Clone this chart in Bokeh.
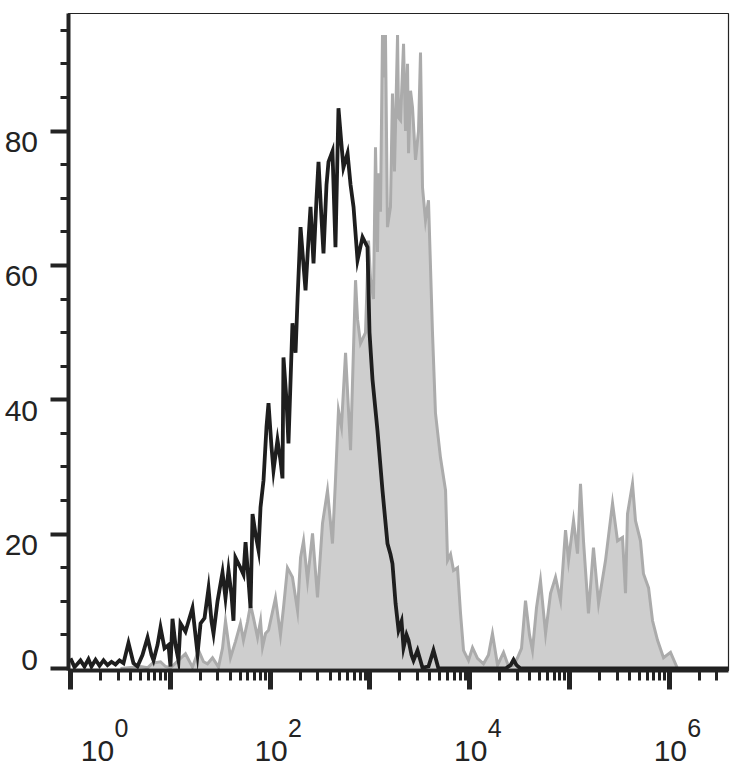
import numpy as np
from bokeh.plotting import figure
from bokeh.models import Range1d, FixedTicker, CustomJSTickFormatter, ColumnDataSource
from bokeh.layouts import row, column
from bokeh.core.properties import value
from bokeh.embed import file_html
from bokeh.resources import INLINE

# ---- data ----
# isotype control (black outline): log10 fluorescence intensity and % of max
ctrl_log = [0.000, 0.040, 0.100, 0.140, 0.180, 0.210, 0.251, 0.291, 0.331, 0.371,
            0.411, 0.451, 0.491, 0.531, 0.581, 0.631, 0.671, 0.721, 0.772, 0.812,
            0.832, 0.872, 0.902, 0.942, 0.982, 1.002, 1.022, 1.052, 1.082, 1.102,
            1.152, 1.182, 1.222, 1.273, 1.303, 1.343, 1.383, 1.413, 1.433, 1.473,
            1.523, 1.553, 1.583, 1.613, 1.633, 1.653, 1.703, 1.733, 1.754, 1.784,
            1.804, 1.824, 1.854, 1.884, 1.904, 1.934, 1.964, 1.984, 2.014, 2.034,
            2.074, 2.104, 2.124, 2.134, 2.164, 2.184, 2.224, 2.255, 2.275, 2.305,
            2.335, 2.355, 2.385, 2.405, 2.435, 2.465, 2.485, 2.515, 2.535, 2.565,
            2.585, 2.625, 2.655, 2.685, 2.715, 2.735, 2.776, 2.806, 2.836, 2.876,
            2.926, 2.976, 2.996, 3.026, 3.076, 3.126, 3.176, 3.206, 3.226, 3.257,
            3.287, 3.317, 3.337, 3.367, 3.387, 3.417, 3.437, 3.477, 3.527, 3.587,
            3.637, 3.687, 4.008, 4.359, 4.409, 4.439, 4.469, 4.509, 5.311, 6.593]
ctrl_pct = [1.5, 0.2, 1.2, 0.3, 1.4, 0.3, 1.3, 0.4, 1.2, 0.5,
            1.0, 0.6, 1.2, 0.8, 3.8, 0.8, 0.3, 2.0, 4.6, 2.0,
            1.2, 3.5, 6.1, 3.0, 3.5, 0.3, 7.4, 3.5, 1.2, 6.7,
            5.5, 7.0, 9.0, 2.2, 6.7, 7.5, 11.9, 7.0, 5.2, 10.0,
            14.3, 10.5, 14.6, 11.0, 7.1, 16.5, 15.0, 14.0, 18.8, 13.0,
            9.0, 23.0, 20.0, 17.6, 24.0, 28.0, 36.0, 39.5, 33.0, 29.5,
            34.0, 31.0, 28.3, 46.3, 40.0, 33.5, 51.4, 47.0, 55.0, 65.7,
            60.0, 56.3, 64.0, 68.7, 60.3, 70.0, 75.4, 67.0, 61.8, 72.0,
            75.4, 77.0, 62.7, 83.4, 78.0, 74.6, 76.7, 72.0, 68.7, 60.8,
            64.2, 62.7, 50.0, 43.0, 35.4, 26.5, 18.6, 17.0, 15.6, 9.7,
            5.7, 7.0, 3.1, 5.0, 4.2, 2.0, 1.2, 2.7, 0.1, 0.3,
            2.7, 0.0, 0.0, 0.0, 0.5, 1.3, 0.5, 0.0, 0.0, 0.0]

# stained sample (grey filled)
stain_log = [0.501, 0.701, 0.772, 0.822, 0.902, 0.952, 1.002, 1.082, 1.152, 1.222,
             1.283, 1.333, 1.373, 1.423, 1.483, 1.523, 1.553, 1.603, 1.653, 1.703,
             1.733, 1.774, 1.804, 1.834, 1.874, 1.904, 1.924, 1.954, 1.984, 2.054,
             2.104, 2.134, 2.174, 2.224, 2.275, 2.305, 2.335, 2.375, 2.425, 2.475,
             2.525, 2.575, 2.625, 2.655, 2.685, 2.715, 2.756, 2.806, 2.836, 2.856,
             2.876, 2.906, 2.956, 2.986, 3.006, 3.036, 3.056, 3.076, 3.086, 3.106,
             3.126, 3.146, 3.156, 3.176, 3.206, 3.226, 3.246, 3.277, 3.287, 3.307,
             3.337, 3.357, 3.377, 3.387, 3.407, 3.427, 3.457, 3.487, 3.507, 3.527,
             3.557, 3.587, 3.627, 3.657, 3.707, 3.758, 3.778, 3.808, 3.838, 3.878,
             3.908, 3.938, 3.988, 4.028, 4.078, 4.138, 4.188, 4.228, 4.279, 4.339,
             4.389, 4.439, 4.479, 4.519, 4.559, 4.599, 4.629, 4.669, 4.709, 4.760,
             4.810, 4.860, 4.910, 4.960, 4.990, 5.040, 5.080, 5.110, 5.140, 5.190,
             5.240, 5.291, 5.361, 5.431, 5.481, 5.531, 5.561, 5.581, 5.631, 5.661,
             5.711, 5.741, 5.792, 5.832, 5.882, 5.942, 6.012, 6.082]
stain_pct = [0.0, 0.3, 0.1, 0.8, 1.0, 0.3, 0.1, 1.2, 2.2, 0.2,
             2.7, 1.0, 0.7, 1.6, 0.2, 3.0, 7.1, 1.6, 4.0, 6.7,
             4.2, 7.0, 9.5, 7.5, 4.6, 7.1, 3.2, 5.2, 5.7, 10.5,
             5.0, 9.0, 15.0, 13.6, 8.6, 16.5, 19.0, 13.1, 20.1, 10.6,
             21.6, 26.5, 18.6, 28.0, 38.4, 36.0, 47.0, 32.5, 47.8, 57.8,
             52.0, 48.4, 50.0, 63.7, 58.0, 55.0, 77.6, 62.0, 73.7, 68.0,
             94.3, 88.0, 94.3, 65.7, 68.7, 85.6, 74.0, 94.3, 82.0, 81.6,
             93.0, 80.0, 90.0, 76.7, 86.0, 83.5, 75.7, 80.0, 91.7, 71.6,
             66.7, 69.7, 50.0, 38.0, 31.4, 26.5, 16.1, 17.0, 14.6, 15.0,
             8.2, 2.7, 1.2, 3.1, 1.5, 0.7, 2.0, 5.2, 0.5, 2.4,
             0.3, 0.5, 1.6, 3.0, 10.1, 5.0, 2.7, 9.0, 13.1, 5.2,
             11.2, 13.6, 10.1, 20.6, 16.1, 22.0, 17.1, 27.5, 19.0, 8.2,
             18.0, 9.7, 16.1, 24.6, 19.0, 19.5, 11.2, 23.0, 27.5, 22.0,
             19.0, 14.1, 12.0, 7.1, 4.2, 1.6, 2.4, 0.0]

# axes
y_major = [0, 20, 40, 60, 80]
y_minor = [5, 10, 15, 25, 30, 35, 45, 50, 55, 65, 70, 75, 85, 90, 95]
y_label_text = ["0", "20", "40", "60", "80"]
x_decades = [0, 1, 2, 3, 4, 5, 6]
x_minor_mult = [2, 3, 4, 5, 6, 7, 8, 9]
x_label_decades = [0, 2, 4, 6]
x_label_base = ["10", "10", "10", "10"]
x_label_sup = ["0", "2", "4", "6"]

# ---- styling / layout constants ----
INK = "#232323"
FONT = "Liberation Sans"
FRAME_W, FRAME_H = 660, 657
TOP, LEFT_LAB, LEFT_AX, RIGHT, BOTTOM_AX, XLAB_H = 13, 40, 28, 2, 45, 55
Y0, Y1 = -0.3, 97.5
PPU = FRAME_H / (Y1 - Y0)          # pixels per y unit

x_lo, x_hi = 10 ** -0.02, 10 ** 6.593
xr = Range1d(x_lo, x_hi)
yr = Range1d(Y0, Y1)

# ---- main plot ----
p = figure(x_axis_type="log", frame_width=FRAME_W, frame_height=FRAME_H,
           x_range=xr, y_range=yr, output_backend="svg", toolbar_location=None,
           min_border_left=LEFT_AX, min_border_top=TOP, min_border_right=RIGHT,
           min_border_bottom=BOTTOM_AX)
p.grid.visible = False
p.outline_line_color = INK
p.outline_line_width = 1.2

sx = 10 ** np.array(stain_log)
sy = np.array(stain_pct)
p.varea(x=sx, y1=np.zeros_like(sy), y2=sy, fill_color="#cecece")
p.line(sx, sy, line_color="#ababab", line_width=3, line_join="miter")

cx = 10 ** np.array(ctrl_log)
cy = np.array(ctrl_pct)
p.line(cx, cy, line_color="#1e1e1e", line_width=3.8, line_join="miter")

major_x = [10.0 ** d for d in x_decades]
minor_x = [m * 10.0 ** d for d in x_decades for m in x_minor_mult if m * 10.0 ** d < x_hi]
xa = p.xaxis[0]
xa.ticker = FixedTicker(ticks=major_x, minor_ticks=minor_x)
xa.formatter = CustomJSTickFormatter(code="return ''")
xa.major_label_standoff = 0
xa.axis_line_width = 4
xa.axis_line_color = INK
xa.major_tick_in = 0
xa.major_tick_out = 19
xa.major_tick_line_width = 5
xa.major_tick_line_color = INK
xa.minor_tick_in = 0
xa.minor_tick_out = 10
xa.minor_tick_line_width = 3
xa.minor_tick_line_color = INK

ya = p.yaxis[0]
ya.ticker = FixedTicker(ticks=y_major, minor_ticks=y_minor)
ya.formatter = CustomJSTickFormatter(code="return ''")
ya.major_label_standoff = 0
ya.axis_line_width = 4
ya.axis_line_color = INK
ya.major_tick_in = 0
ya.major_tick_out = 18
ya.major_tick_line_width = 4
ya.major_tick_line_color = INK
ya.minor_tick_in = 0
ya.minor_tick_out = 8
ya.minor_tick_line_width = 3
ya.minor_tick_line_color = INK

# ---- y tick labels (strip with the same y scale, extended below the frame) ----
yl = figure(frame_width=LEFT_LAB, frame_height=FRAME_H + BOTTOM_AX,
            x_range=Range1d(0, LEFT_LAB), y_range=Range1d(Y0 - BOTTOM_AX / PPU, Y1),
            output_backend="svg", toolbar_location=None,
            x_axis_location=None, y_axis_location=None,
            min_border_left=0, min_border_right=0, min_border_top=TOP,
            min_border_bottom=0)
yl.grid.visible = False
yl.outline_line_color = None
ysrc = ColumnDataSource(dict(x=[LEFT_LAB - 2.5] * len(y_major), y=y_major, t=y_label_text,
                             dy=[-8 if v == 0 else 11 for v in y_major]))
yl.text(x="x", y="y", text="t", y_offset="dy", source=ysrc, text_align="right",
        text_baseline="alphabetic", text_font=value(FONT), text_font_size=value("30px"),
        text_color=INK)

# ---- x tick labels (strip sharing the x range) ----
xl = figure(x_axis_type="log", frame_width=FRAME_W, frame_height=XLAB_H, x_range=xr,
            y_range=Range1d(0, XLAB_H), output_backend="svg", toolbar_location=None,
            x_axis_location=None, y_axis_location=None,
            min_border_left=LEFT_LAB + LEFT_AX, min_border_right=RIGHT,
            min_border_top=0, min_border_bottom=0)
xl.grid.visible = False
xl.outline_line_color = None
shift = [27 if d == 0 else 1 for d in x_label_decades]
xsrc = ColumnDataSource(dict(x=[10.0 ** d for d in x_label_decades], base=x_label_base,
                             sup=x_label_sup, dx=shift, dxs=[s + 17 for s in shift]))
xl.text(x="x", y=20, text="base", x_offset="dx", source=xsrc,
        text_align="center", text_baseline="alphabetic", text_font=value(FONT),
        text_font_size=value("30px"), text_color=INK)
xl.text(x="x", y=43, text="sup", x_offset="dxs", source=xsrc,
        text_align="left", text_baseline="alphabetic", text_font=value(FONT),
        text_font_size=value("25px"), text_color=INK)

layout = column(row(yl, p, spacing=0), xl, spacing=0)
open("out.html", "w").write(file_html(layout, INLINE))
